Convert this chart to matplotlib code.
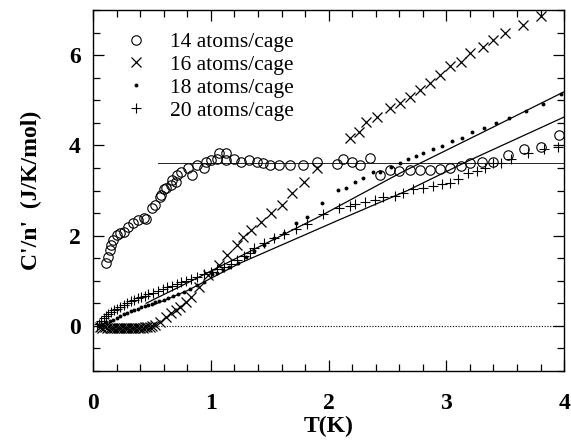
import matplotlib
matplotlib.use("Agg")
import matplotlib.pyplot as plt
from matplotlib.ticker import MultipleLocator

# ---------------- data ----------------
t14 = [0.11, 0.13, 0.145, 0.155, 0.17, 0.20, 0.23, 0.26, 0.30, 0.34, 0.38, 0.43, 0.45, 0.50, 0.53,
       0.57, 0.58, 0.60, 0.62, 0.66, 0.67, 0.70, 0.71, 0.75, 0.81, 0.84, 0.88, 0.94, 0.96, 1.00,
       1.05, 1.07, 1.13, 1.13, 1.20, 1.26, 1.32, 1.39, 1.44, 1.50, 1.58, 1.67, 1.78, 1.90, 2.07,
       2.12, 2.20, 2.27, 2.35, 2.44, 2.52, 2.60, 2.69, 2.78, 2.86, 2.95, 3.03, 3.12, 3.20, 3.30,
       3.40, 3.52, 3.66, 3.80, 3.96]
c14 = [1.40, 1.53, 1.68, 1.79, 1.91, 2.02, 2.05, 2.09, 2.20, 2.28, 2.34, 2.39, 2.37, 2.61, 2.68,
       2.86, 2.90, 3.03, 3.06, 3.13, 3.24, 3.19, 3.35, 3.42, 3.51, 3.35, 3.57, 3.51, 3.63, 3.68,
       3.70, 3.83, 3.83, 3.68, 3.70, 3.63, 3.68, 3.63, 3.61, 3.57, 3.57, 3.57, 3.57, 3.63, 3.59,
       3.70, 3.63, 3.57, 3.73, 3.35, 3.46, 3.44, 3.46, 3.46, 3.46, 3.48, 3.50, 3.55, 3.61, 3.63,
       3.63, 3.79, 3.93, 3.97, 4.22]

t16 = [0.06, 0.08, 0.10, 0.12, 0.14, 0.16, 0.18, 0.20, 0.22, 0.24, 0.26, 0.28, 0.30, 0.32, 0.34,
       0.36, 0.38, 0.40, 0.42, 0.44, 0.46, 0.48, 0.50, 0.53, 0.57, 0.62, 0.66, 0.70, 0.74, 0.79,
       0.83, 0.90, 0.98, 1.07, 1.14, 1.22, 1.27, 1.34, 1.43, 1.51, 1.60, 1.69, 1.79, 1.90, 2.18,
       2.26, 2.32, 2.41, 2.52, 2.61, 2.69, 2.78, 2.86, 2.95, 3.03, 3.12, 3.20, 3.31, 3.40, 3.50,
       3.65, 3.80]
c16 = [-0.02, -0.04, -0.03, -0.05, -0.04, -0.05, -0.04, -0.05, -0.04, -0.05, -0.04, -0.05, -0.04,
       -0.05, -0.04, -0.05, -0.04, -0.04, -0.04, -0.03, -0.03, -0.02, 0.00, 0.02, 0.08, 0.19, 0.28,
       0.35, 0.42, 0.53, 0.64, 0.87, 1.12, 1.35, 1.57, 1.79, 1.97, 2.13, 2.31, 2.50, 2.68, 2.95,
       3.19, 3.51, 4.17, 4.30, 4.52, 4.63, 4.82, 4.94, 5.08, 5.23, 5.39, 5.57, 5.75, 5.85, 6.05,
       6.18, 6.34, 6.50, 6.68, 6.86]

t18 = [0.05, 0.08, 0.11, 0.14, 0.17, 0.20, 0.23, 0.26, 0.29, 0.32, 0.35, 0.38, 0.41, 0.44, 0.47,
       0.50, 0.53, 0.56, 0.60, 0.64, 0.68, 0.72, 0.77, 0.82, 0.88, 0.94, 1.01, 1.05, 1.10, 1.15,
       1.23, 1.30, 1.37, 1.45, 1.54, 1.62, 1.72, 1.82, 1.94, 2.08, 2.15, 2.22, 2.29, 2.38, 2.44,
       2.53, 2.61, 2.67, 2.74, 2.80, 2.89, 2.96, 3.05, 3.13, 3.22, 3.32, 3.42, 3.53, 3.68, 3.82,
       3.97]
c18 = [0.00, 0.04, 0.08, 0.10, 0.14, 0.18, 0.22, 0.26, 0.29, 0.32, 0.35, 0.38, 0.41, 0.44, 0.47,
       0.49, 0.52, 0.55, 0.58, 0.62, 0.66, 0.70, 0.76, 0.82, 0.90, 0.98, 1.15, 1.18, 1.23, 1.30,
       1.39, 1.52, 1.67, 1.80, 1.94, 2.05, 2.28, 2.41, 2.72, 3.02, 3.06, 3.19, 3.28, 3.40, 3.42,
       3.52, 3.62, 3.69, 3.76, 3.83, 3.91, 3.98, 4.09, 4.16, 4.30, 4.38, 4.50, 4.61, 4.77, 4.92,
       5.14]

t20 = [0.03, 0.05, 0.07, 0.09, 0.11, 0.13, 0.15, 0.18, 0.20, 0.23, 0.26, 0.29, 0.32, 0.35, 0.38,
       0.41, 0.44, 0.47, 0.51, 0.55, 0.59, 0.63, 0.67, 0.71, 0.75, 0.79, 0.83, 0.88, 0.94, 1.00,
       1.05, 1.11, 1.17, 1.22, 1.28, 1.33, 1.37, 1.45, 1.54, 1.62, 1.72, 1.82, 1.95, 2.09, 2.18,
       2.22, 2.31, 2.39, 2.46, 2.56, 2.63, 2.72, 2.80, 2.89, 2.96, 3.03, 3.10, 3.18, 3.26, 3.33,
       3.40, 3.46, 3.55, 3.69, 3.83, 3.95]
c20 = [0.00, 0.05, 0.10, 0.18, 0.22, 0.27, 0.31, 0.35, 0.38, 0.42, 0.46, 0.50, 0.54, 0.58, 0.61,
       0.64, 0.67, 0.70, 0.73, 0.77, 0.81, 0.85, 0.89, 0.93, 0.97, 1.00, 1.03, 1.08, 1.14, 1.20,
       1.25, 1.31, 1.38, 1.45, 1.54, 1.62, 1.72, 1.83, 1.94, 2.03, 2.15, 2.25, 2.47, 2.62, 2.66,
       2.70, 2.74, 2.78, 2.85, 2.88, 2.95, 3.03, 3.06, 3.11, 3.15, 3.17, 3.26, 3.38, 3.44, 3.51,
       3.60, 3.62, 3.70, 3.84, 3.92, 3.97]

# fitted curves
fitA_t = [0.45, 0.80, 1.24, 1.92, 2.61, 3.30, 4.00]
fitA_c = [0.50, 0.95, 1.53, 2.42, 3.39, 4.28, 5.19]
fitB_t = [0.50, 0.80, 1.24, 2.09, 2.67, 3.18, 4.00]
fitB_c = [0.45, 0.78, 1.38, 2.35, 3.00, 3.65, 4.63]
plateau_t = [0.55, 4.0]
plateau_c = [3.62, 3.62]
zero_t = [0.55, 4.0]
zero_c = [0.0, 0.0]

labels = ["14 atoms/cage", "16 atoms/cage", "18 atoms/cage", "20 atoms/cage"]
xticks = [0, 1, 2, 3, 4]
yticks = [0, 2, 4, 6]

# ---------------- plot ----------------
plt.rcParams['font.family'] = ['Liberation Serif', 'DejaVu Serif']
fig = plt.figure(figsize=(5.71, 4.40), dpi=100)
ax = fig.add_axes([0.163, 0.157, 0.825, 0.820])

ax.plot(plateau_t, plateau_c, color='black', lw=0.6)
ax.plot(zero_t, zero_c, color='black', lw=0.8, ls=(0, (1, 1.5)))
ax.plot(fitA_t, fitA_c, color='black', lw=0.9)
ax.plot(fitB_t, fitB_c, color='black', lw=0.9)

ax.plot(t14, c14, ls='none', marker='o', ms=6.8, mfc='none', mec='black', mew=0.8, label=labels[0])
ax.plot(t16, c16, ls='none', marker='x', ms=6.5, color='black', mew=0.9, label=labels[1])
ax.plot(t18, c18, ls='none', marker='o', ms=2.8, color='black', mew=0, label=labels[2])
ax.plot(t20, c20, ls='none', marker='+', ms=7, color='black', mew=0.8, label=labels[3])

ax.set_xlim(0, 4)
ax.set_ylim(-1, 7)
ax.set_xticks(xticks)
ax.set_yticks(yticks)
ax.xaxis.set_minor_locator(MultipleLocator(0.2))
ax.yaxis.set_minor_locator(MultipleLocator(0.5))
ax.tick_params(which='both', direction='in', top=True, right=True, width=0.9)
ax.tick_params(which='major', length=8)
ax.tick_params(which='minor', length=5)
ax.tick_params(axis='x', which='major', pad=16)
ax.tick_params(axis='y', which='major', pad=9)
for lab in ax.get_xticklabels() + ax.get_yticklabels():
    lab.set_fontweight('bold')
    lab.set_fontsize(17)
for s in ax.spines.values():
    s.set_linewidth(1.0)

ax.set_xlabel("T(K)", fontsize=17, fontweight='bold', labelpad=1)
ax.set_ylabel("C'/n'  (J/K/mol)", fontsize=17, fontweight='bold', labelpad=19)

leg = ax.legend(loc='upper left', bbox_to_anchor=(0.04, 0.975), frameon=False,
                handlelength=1.0, handletextpad=1.1, labelspacing=0.13, fontsize=15.5,
                borderaxespad=0.2)

fig.savefig("out.png", dpi=100)
